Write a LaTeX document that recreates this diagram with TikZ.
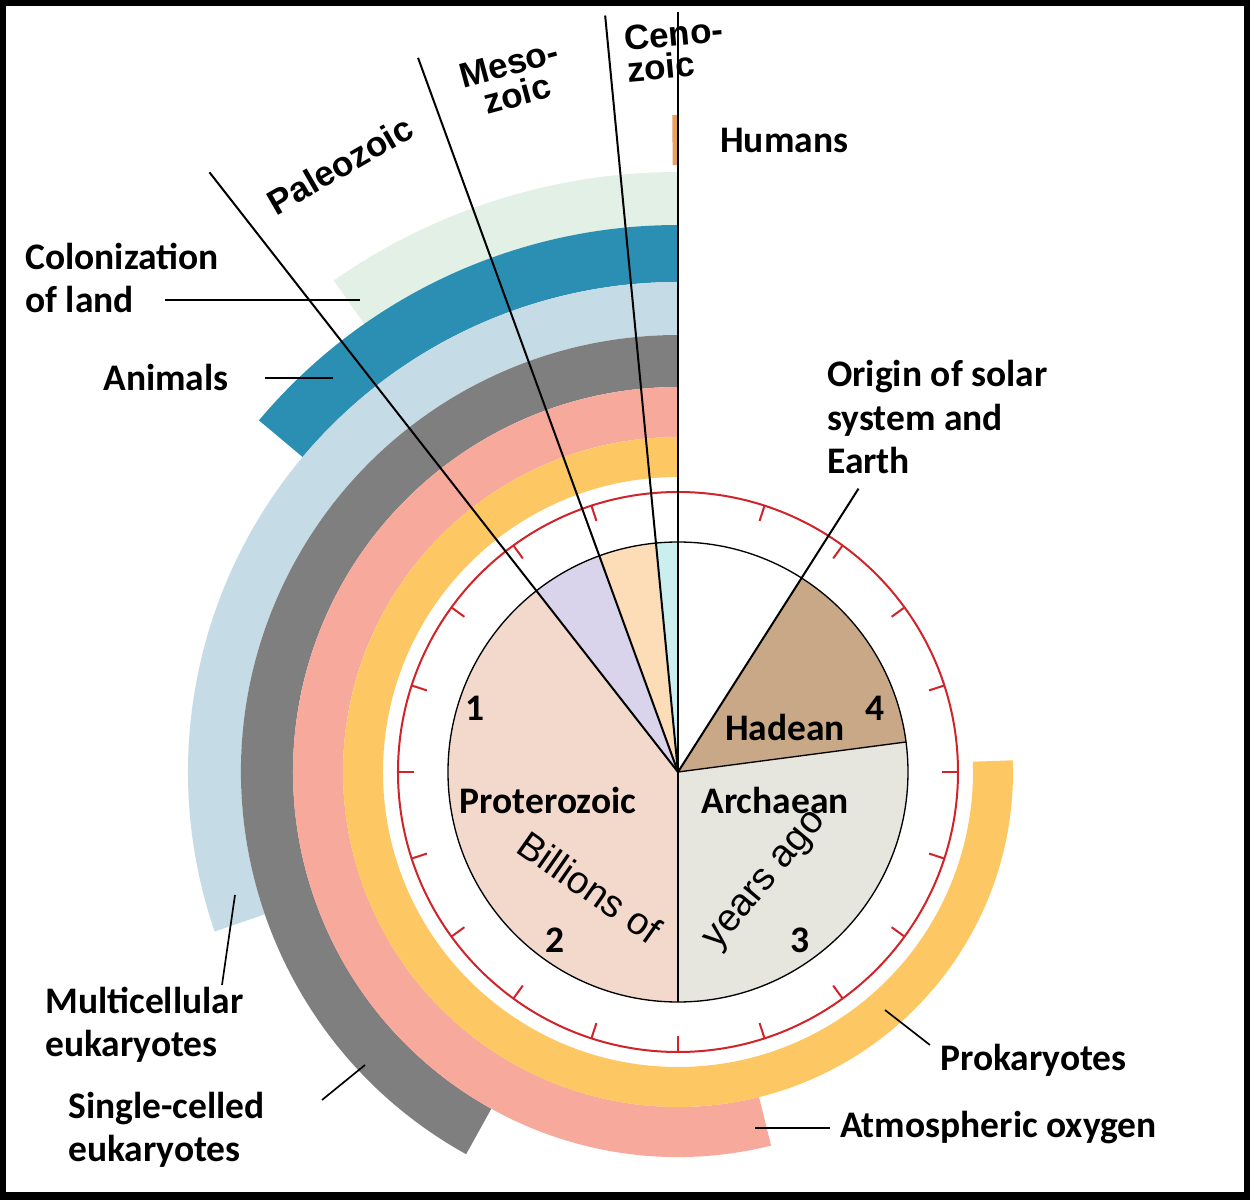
\documentclass[tikz,border=0pt]{standalone}
\usepackage{fontspec}
\setmainfont{Carlito}
\newfontfamily\arialf{Liberation Sans}
\definecolor{prok}{HTML}{FDC863}
\definecolor{oxy}{HTML}{F7A99B}
\definecolor{single}{HTML}{7F7F7F}
\definecolor{multi}{HTML}{C5DCE6}
\definecolor{anim}{HTML}{2B8FB3}
\definecolor{land}{HTML}{E2F0E6}
\definecolor{hum}{HTML}{E8A060}
\definecolor{proter}{HTML}{F2D9CC}
\definecolor{paleo}{HTML}{D9D4EC}
\definecolor{meso}{HTML}{FDDCB8}
\definecolor{ceno}{HTML}{CBEFEF}
\definecolor{arch}{HTML}{E6E6DE}
\definecolor{hade}{HTML}{C8A886}
\definecolor{clockred}{HTML}{D0232A}
\newcommand{\myband}[4]{\fill[#1] (90:#2) arc[start angle=90,end angle=90+#4,radius=#2] -- (90+#4:#3) arc[start angle=90+#4,end angle=90,radius=#3] -- cycle;}
\newcommand{\mysector}[3]{\fill[#1] (0,0) -- (#2:230) arc[start angle=#2,end angle=#3,radius=230] -- cycle;}
\begin{document}
\begin{tikzpicture}[x=0.6pt,y=0.6pt,
  lab/.style={font=\bfseries\fontsize{22.5}{26}\selectfont,align=left,inner sep=0pt},
  era/.style={font=\arialf\bfseries\fontsize{21}{19}\selectfont,align=center,inner sep=0pt},
  lead/.style={line width=1pt}]
\fill[black] (-678,772) rectangle (572,-428);
\fill[white] (-672,766) rectangle (566,-420);
\useasboundingbox (-678,772) rectangle (572,-428);
% bands
\myband{land}{547}{600}{35}
\myband{anim}{490}{547}{50}
\myband{multi}{437}{490}{109}
\myband{single}{385}{437}{151}
\myband{oxy}{335}{385}{194}
\myband{prok}{295}{335}{272}
\myband{hum}{607}{657}{0.5}
% clock
\draw[clockred,line width=1.2pt] (0,0) circle (280);
\foreach \a in {0,18,...,342} \draw[clockred,line width=1.2pt] (\a:280) -- (\a:264);
\mysector{arch}{-90}{7.5}
\mysector{hade}{7.5}{57.5}
\mysector{ceno}{90}{95.5}
\mysector{meso}{95.5}{110}
\mysector{paleo}{110}{128}
\mysector{proter}{128}{270}
\draw[line width=0.8pt] (0,0) circle (230);
\coordinate (c) at (0,0);
\foreach \a in {-90,7.5} \draw[line width=0.8pt] (c) -- (\a:230);
\draw[line width=1.2pt] (c) -- (57.5:336);
\draw[line width=1.2pt] (c) -- (128:761);
\draw[line width=1.2pt] (c) -- (110:760);
\draw[line width=1.2pt] (c) -- (95.5:760);
\draw[line width=1.2pt] (c) -- (90:760);
% inner labels
\node[lab] (pro) at (-130,-28) {Proterozoic};
\node[lab] (arc) at (97,-28) {Archaean};
\node[lab] (had) at (107,45) {Hadean};
\node[lab] (n1) at (-203,64) {1};
\node[lab] (n2) at (-123,-168) {2};
\node[lab] (n3) at (122,-168) {3};
\node[lab] (n4) at (197,64) {4};
\node[era,font=\arialf\fontsize{23}{24}\selectfont,rotate=-35] (bil) at (-88,-115) {Billions of};
\node[era,font=\arialf\fontsize{23}{24}\selectfont,rotate=50] (yrs) at (89,-110) {years ago};
% era labels
\node[era,rotate=30] (pal) at (-338,607) {Paleozoic};
\node[era,rotate=15] (mes) at (-165,693) {Meso-\\zoic};
\node[era,rotate=5,align=left] (cen) at (-3,722) {Ceno-\\zoic};
% outer labels
\node[lab,anchor=west] (humans) at (42,632) {Humans};
\node[lab,anchor=west] (col) at (-653,494) {Colonization\\of land};
\node[lab,anchor=west] (ani) at (-575,395) {Animals};
\node[lab,anchor=west] (ori) at (149,355) {Origin of solar\\system and\\Earth};
\node[lab,anchor=west] (mul) at (-633,-253) {Multicellular\\eukaryotes};
\node[lab,anchor=west] (sin) at (-610,-358) {Single-celled\\eukaryotes};
\node[lab,anchor=west] (prk) at (262,-288) {Prokaryotes};
\node[lab,anchor=west] (oxl) at (162,-356) {Atmospheric oxygen};
% leaders
\coordinate (l1) at (-318,472); \draw[lead] (-513,472) -- (l1);
\coordinate (l2) at (-345,394); \draw[lead] (-413,394) -- (l2);
\coordinate (l3) at (-443,-123); \draw[lead] (-456,-213) -- (l3);
\coordinate (l4) at (-313,-293); \draw[lead] (-356,-328) -- (l4);
\coordinate (l5) at (207,-238); \draw[lead] (252,-273) -- (l5);
\coordinate (l6) at (77,-356); \draw[lead] (152,-356) -- (l6);
\end{tikzpicture}
\end{document}
